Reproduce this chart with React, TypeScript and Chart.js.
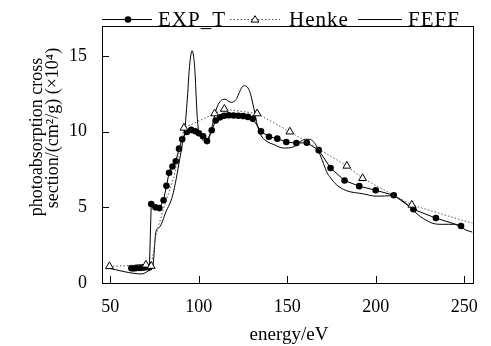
import { useEffect, useRef } from "react";
import { Chart, registerables } from "chart.js";
Chart.register(...registerables);

const xTicks = [50, 100, 150, 200, 250];
const yTicks = [0, 5, 10, 15];

const expE = [62, 63, 64, 65, 66, 67, 68, 69, 70, 71, 72.2, 73.2, 75.6, 77.8, 80.2, 81.8, 83.3, 85.2, 87.1, 88.9, 90.7, 93.3, 95.8, 98.1, 100.1, 102.5, 104.7, 107.4, 109.6, 112.1, 114.4, 117, 119.7, 122.4, 125.1, 127.8, 130.6, 135.2, 139.7, 144.4, 149.5, 155.2, 161.1, 167.8, 174.5, 182.4, 190.7, 200.0, 210.2, 221.3, 234.0, 248.2];
const expV = [0.98, 0.97, 0.98, 1.0, 1.0, 1.0, 1.02, 1.03, 1.05, 1.05, 1.05, 5.22, 5.0, 4.95, 5.47, 6.42, 7.29, 7.7, 8.05, 8.88, 9.5, 9.98, 10.12, 10.03, 9.9, 9.7, 9.38, 10.1, 10.74, 10.95, 11.05, 11.08, 11.07, 11.05, 11.03, 10.98, 10.85, 10.02, 9.67, 9.54, 9.32, 9.25, 9.27, 8.78, 7.6, 6.77, 6.4, 6.13, 5.8, 4.87, 4.29, 3.77];

const henkeE = [49.6, 70.2, 73.2, 76, 80.6, 86, 91.7, 109, 114.5, 133, 151.5, 183.7, 192.6, 220.4, 254.7];
const henkeV = [1.1, 1.2, 1.12, 3.2, 5.1, 7.0, 10.25, 11.2, 11.5, 11.2, 10.0, 7.74, 6.92, 5.16, 3.94];
const henkeMarkedE = [49.6, 70.2, 73.2, 91.7, 109, 114.5, 133, 151.5, 183.7, 192.6, 220.4];

const feffE = [48, 68, 72.5, 74, 75.9, 77.8, 81.5, 85.2, 87.5, 89.3, 90.8, 92.2, 93, 93.8, 94.6, 95.5, 96.3, 97.1, 97.9, 98.6, 99.3, 100.2, 101.5, 103, 104.6, 106.5, 108.3, 110, 111.5, 113.5, 115, 117, 118.5, 120, 121.5, 123, 124.5, 126, 127.5, 129, 130.5, 131.8, 133, 135, 138, 142.5, 148, 153.7, 157, 160.2, 162.5, 164.8, 166.8, 168.5, 170.5, 172.5, 174.5, 177.8, 183.3, 192.6, 200.2, 205, 210.2, 213, 216.7, 220, 224, 229.6, 233, 237, 241, 244.5, 248, 251, 254.7];
const feffV = [1.0, 0.6, 0.85, 1.0, 3.42, 3.67, 4.7, 5.74, 7.0, 8.2, 9.2, 10.1, 11.3, 12.5, 14.0, 15.0, 15.35, 15.0, 14.0, 12.3, 10.8, 9.9, 9.55, 9.4, 9.26, 9.8, 10.7, 11.5, 11.9, 12.12, 12.15, 12.0, 11.94, 12.0, 12.2, 12.6, 12.95, 13.04, 12.95, 12.6, 11.9, 11.2, 10.5, 9.8, 9.4, 9.15, 8.92, 9.0, 9.3, 9.5, 9.5, 9.35, 9.0, 8.5, 7.9, 7.3, 6.95, 6.5, 6.11, 5.9, 5.74, 5.75, 5.78, 5.6, 5.3, 4.95, 4.5, 4.08, 3.92, 3.88, 3.88, 3.88, 3.7, 3.5, 3.36];

const seriesNames = ["EXP_T", "Henke", "FEFF"];
const xTitle = "energy/eV";
const yTitle1 = "photoabsorption cross";
const yTitle2 = "section/(cm\u00B2/g) (\u00D710\u2074)";

const FONT = '"Liberation Serif", serif';

export default function App() {
  const ref = useRef<HTMLCanvasElement>(null);
  useEffect(() => {
    const canvas = ref.current!;
    let chart: any = null;
    let cancelled = false;
    const deco = {
      id: "deco",
      afterDraw(ch: any) {
        const { ctx, chartArea: a, scales } = ch;
        const xs = scales.x, ys = scales.y;
        ctx.save();
        ctx.strokeStyle = "#000";
        ctx.lineWidth = 1;
        ctx.setLineDash([]);
        ctx.strokeRect(Math.round(a.left) + 0.5, Math.round(a.top) + 0.5, Math.round(a.right - a.left), Math.round(a.bottom - a.top));
        ctx.beginPath();
        xTicks.forEach((v) => {
          const px = Math.round(xs.getPixelForValue(v)) + 0.5;
          ctx.moveTo(px, a.bottom);
          ctx.lineTo(px, a.bottom - 7);
        });
        yTicks.forEach((v) => {
          const py = Math.round(ys.getPixelForValue(v)) + 0.5;
          ctx.moveTo(a.left, py);
          ctx.lineTo(a.left + 7, py);
        });
        ctx.stroke();

        const ly = 19.5;
        ctx.fillStyle = "#000";
        ctx.beginPath();
        ctx.moveTo(102, ly);
        ctx.lineTo(152, ly);
        ctx.stroke();
        ctx.beginPath();
        ctx.arc(128, ly, 3.3, 0, Math.PI * 2);
        ctx.fill();
        ctx.font = `21px ${FONT}`;
        ctx.textBaseline = "middle";
        ctx.textAlign = "left";
        (ctx as any).letterSpacing = "1px";
        ctx.fillText(seriesNames[0], 158, ly + 1);
        ctx.save();
        ctx.strokeStyle = "#555";
        ctx.setLineDash([1.5, 2]);
        ctx.beginPath();
        ctx.moveTo(230, ly);
        ctx.lineTo(280, ly);
        ctx.stroke();
        ctx.restore();
        ctx.beginPath();
        ctx.moveTo(255, ly - 3.8);
        ctx.lineTo(259, ly + 2.6);
        ctx.lineTo(251, ly + 2.6);
        ctx.closePath();
        ctx.fillStyle = "#fff";
        ctx.fill();
        ctx.stroke();
        ctx.fillStyle = "#000";
        ctx.fillText(seriesNames[1], 289, ly + 1);
        ctx.beginPath();
        ctx.moveTo(358, ly);
        ctx.lineTo(402, ly);
        ctx.stroke();
        ctx.fillText(seriesNames[2], 408, ly + 1);
        (ctx as any).letterSpacing = "0px";

        ctx.font = `19px ${FONT}`;
        ctx.textAlign = "center";
        ctx.textBaseline = "alphabetic";
        ctx.fillText(xTitle, 289, 340);
        ctx.font = `18px ${FONT}`;
        ctx.save();
        ctx.translate(42, 137);
        ctx.rotate(-Math.PI / 2);
        ctx.fillText(yTitle1, 0, 0);
        ctx.restore();
        ctx.save();
        ctx.translate(58, 128);
        ctx.rotate(-Math.PI / 2);
        ctx.fillText(yTitle2, 0, 0);
        ctx.restore();
        ctx.restore();
      },
    };

    const build = () => {
      if (cancelled) return;
      chart = new Chart(canvas, {
        type: "line",
        data: {
          datasets: [
            {
              label: seriesNames[1],
              data: henkeE.map((x, i) => ({ x, y: henkeV[i] })),
              borderColor: "#555",
              borderWidth: 1,
              borderDash: [1.5, 2],
              pointStyle: "triangle",
              pointRadius: (c: any) => (henkeMarkedE.includes(henkeE[c.dataIndex]) ? 4.5 : 0),
              pointBackgroundColor: "#fff",
              pointBorderColor: "#000",
              pointBorderWidth: 1,
              tension: 0,
            },
            {
              label: seriesNames[0],
              data: expE.map((x, i) => ({ x, y: expV[i] })),
              borderColor: "#000",
              borderWidth: 1,
              pointStyle: "circle",
              pointRadius: 3.3,
              pointBackgroundColor: "#000",
              pointBorderColor: "#000",
              pointBorderWidth: 0,
              tension: 0,
            },
            {
              label: seriesNames[2],
              data: feffE.map((x, i) => ({ x, y: feffV[i] })),
              borderColor: "#000",
              borderWidth: 1,
              pointRadius: 0,
              cubicInterpolationMode: "monotone",
            },
          ],
        } as any,
        options: {
          responsive: false,
          animation: false,
          devicePixelRatio: 1,
          layout: { padding: { top: 7, right: 12, left: 0, bottom: 0 } },
          plugins: { legend: { display: false }, tooltip: { enabled: false } },
          scales: {
            x: {
              type: "linear",
              min: 45.4,
              max: 254.7,
              afterBuildTicks: (s: any) => {
                s.ticks = xTicks.map((v) => ({ value: v }));
              },
              afterFit: (s: any) => {
                s.height = 63;
              },
              grid: { display: false, drawTicks: false },
              border: { display: false },
              ticks: { padding: 13, color: "#000", maxRotation: 0, autoSkip: false, font: { family: FONT, size: 18 } },
            },
            y: {
              type: "linear",
              min: 0,
              max: 17,
              afterBuildTicks: (s: any) => {
                s.ticks = yTicks.map((v) => ({ value: v }));
              },
              afterFit: (s: any) => {
                s.width = 102;
              },
              grid: { display: false, drawTicks: false },
              border: { display: false },
              ticks: { padding: 15, color: "#000", autoSkip: false, font: { family: FONT, size: 18 } },
            },
          },
        } as any,
        plugins: [deco],
      });
    };
    const fonts = (document as any).fonts;
    if (fonts && fonts.load) {
      Promise.all([fonts.load(`18px "Liberation Serif"`), fonts.load(`21px "Liberation Serif"`)])
        .catch(() => {})
        .then(build);
    } else {
      build();
    }
    return () => {
      cancelled = true;
      if (chart) chart.destroy();
    };
  }, []);
  return (
    <div style={{ position: "fixed", left: 0, top: 0, width: 491, height: 346, background: "#fff" }}>
      <canvas ref={ref} width={491} height={346} style={{ width: 491, height: 346, display: "block" }} />
    </div>
  );
}
